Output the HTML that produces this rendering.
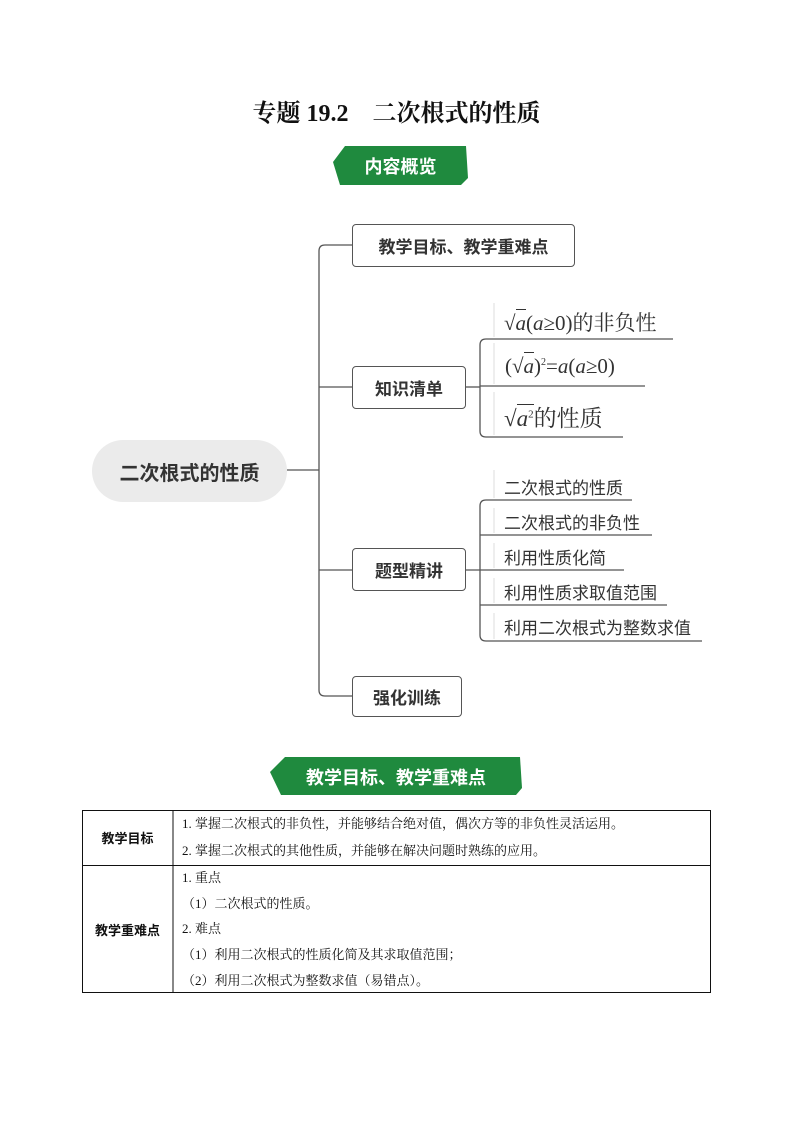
<!DOCTYPE html>
<html><head><meta charset="utf-8"><style>
body{margin:0;background:#fff;}
.p{position:relative;width:793px;height:1122px;overflow:hidden;font-family:"Liberation Sans","Noto Sans CJK SC",sans-serif;color:#222;}
.a{position:absolute;white-space:nowrap;}
.box{position:absolute;border:1.3px solid #555;border-radius:4px;background:#fff;font-weight:bold;font-size:17px;display:flex;align-items:center;justify-content:center;box-sizing:border-box;color:#333;}
.m{font-family:"Liberation Serif","Noto Serif CJK SC",serif;font-size:21px;color:#333;}
.m i{font-style:italic;}
.ov{border-top:1.3px solid #333;padding-top:1px;}
.t{font-size:17px;color:#333;}
.s{font-family:"Liberation Serif","Noto Serif CJK SC",serif;font-size:13px;color:#111;}
</style></head><body><div class="p">
<div class="a" style="left:0;width:793px;top:93px;text-align:center;font-family:'Liberation Serif','Noto Serif CJK SC',serif;font-weight:bold;font-size:24px;color:#111;">专题 19.2&nbsp;&nbsp;&nbsp;&nbsp;二次根式的性质</div>
<svg class="a" style="left:0;top:0" width="793" height="1122">
<polygon points="345,146 466,146 468,178 461,185 340,185 333,162" fill="#1f8a3e"/>
<polygon points="285,757 520,757 522,788 516,795 281,795 270,772" fill="#1f8a3e"/>
<rect x="92" y="440" width="195" height="62" rx="31" fill="#ebebeb"/>
<g fill="none" stroke="#555" stroke-width="1.3">
<line x1="287" y1="470" x2="319" y2="470"/>
<path d="M352,245 H325 Q319,245 319,251 V690 Q319,696 325,696 H352"/>
<line x1="319" y1="387" x2="352" y2="387"/>
<line x1="319" y1="570" x2="352" y2="570"/>
<line x1="466" y1="387" x2="480" y2="387"/>
<path d="M673,339 H486 Q480,339 480,345 V431 Q480,437 486,437 H623"/>
<line x1="480" y1="386" x2="645" y2="386"/>
<line x1="465" y1="570" x2="624" y2="570"/>
<path d="M632,500 H486 Q480,500 480,506 V635 Q480,641 486,641 H702"/>
<line x1="480" y1="535" x2="652" y2="535"/>
<line x1="480" y1="605" x2="667" y2="605"/>
</g>
<g stroke="#ddd" stroke-width="1">
<line x1="494" y1="303" x2="494" y2="337"/><line x1="494" y1="343" x2="494" y2="384"/><line x1="494" y1="392" x2="494" y2="435"/>
<line x1="494" y1="470" x2="494" y2="498"/><line x1="494" y1="508" x2="494" y2="533"/><line x1="494" y1="543" x2="494" y2="568"/><line x1="494" y1="578" x2="494" y2="603"/><line x1="494" y1="613" x2="494" y2="639"/>
</g>
<rect x="82.5" y="810.5" width="628" height="182" fill="none" stroke="#111" stroke-width="1"/>
<line x1="173" y1="810" x2="173" y2="993" stroke="#111"/>
<line x1="82" y1="865.5" x2="711" y2="865.5" stroke="#111"/>
</svg>
<div class="a" style="left:333px;width:135px;top:153px;text-align:center;color:#fff;font-weight:bold;font-size:18px;">内容概览</div>
<div class="a" style="left:270px;width:252px;top:764px;text-align:center;color:#fff;font-weight:bold;font-size:18px;">教学目标、教学重难点</div>
<div class="a" style="left:92px;width:195px;top:457px;text-align:center;font-weight:bold;font-size:20px;color:#333;">二次根式的性质</div>
<div class="box" style="left:352px;top:224px;width:223px;height:43px;">教学目标、教学重难点</div>
<div class="box" style="left:352px;top:366px;width:114px;height:43px;">知识清单</div>
<div class="box" style="left:352px;top:548px;width:114px;height:43px;">题型精讲</div>
<div class="box" style="left:352px;top:676px;width:110px;height:41px;">强化训练</div>
<div class="a m" style="left:504px;top:307px;">√<span class="ov"><i>a</i></span>(<i>a</i>≥0)的非负性</div>
<div class="a m" style="left:505px;top:354px;">(√<span class="ov"><i>a</i></span>)<sup style="font-size:10px">2</sup>=<i>a</i>(<i>a</i>≥0)</div>
<div class="a m" style="left:504px;top:400px;font-size:23px;">√<span class="ov"><i>a</i><sup style="font-size:11px">2</sup></span>的性质</div>
<div class="a t" style="left:504px;top:474px;">二次根式的性质</div>
<div class="a t" style="left:504px;top:509px;">二次根式的非负性</div>
<div class="a t" style="left:504px;top:544px;">利用性质化简</div>
<div class="a t" style="left:504px;top:579px;">利用性质求取值范围</div>
<div class="a t" style="left:504px;top:614px;">利用二次根式为整数求值</div>
<div class="a s" style="left:82px;width:91px;top:828px;text-align:center;font-weight:bold;font-family:'Liberation Sans','Noto Sans CJK SC',sans-serif;">教学目标</div>
<div class="a s" style="left:82px;width:91px;top:920px;text-align:center;font-weight:bold;font-family:'Liberation Sans','Noto Sans CJK SC',sans-serif;">教学重难点</div>
<div class="a s" style="left:182px;top:813px;">1. 掌握二次根式的非负性，并能够结合绝对值，偶次方等的非负性灵活运用。</div>
<div class="a s" style="left:182px;top:840px;">2. 掌握二次根式的其他性质，并能够在解决问题时熟练的应用。</div>
<div class="a s" style="left:182px;top:867px;">1. 重点</div>
<div class="a s" style="left:182px;top:893px;">（1）二次根式的性质。</div>
<div class="a s" style="left:182px;top:918px;">2. 难点</div>
<div class="a s" style="left:182px;top:944px;">（1）利用二次根式的性质化简及其求取值范围；</div>
<div class="a s" style="left:182px;top:970px;">（2）利用二次根式为整数求值（易错点）。</div>
</div></body></html>
